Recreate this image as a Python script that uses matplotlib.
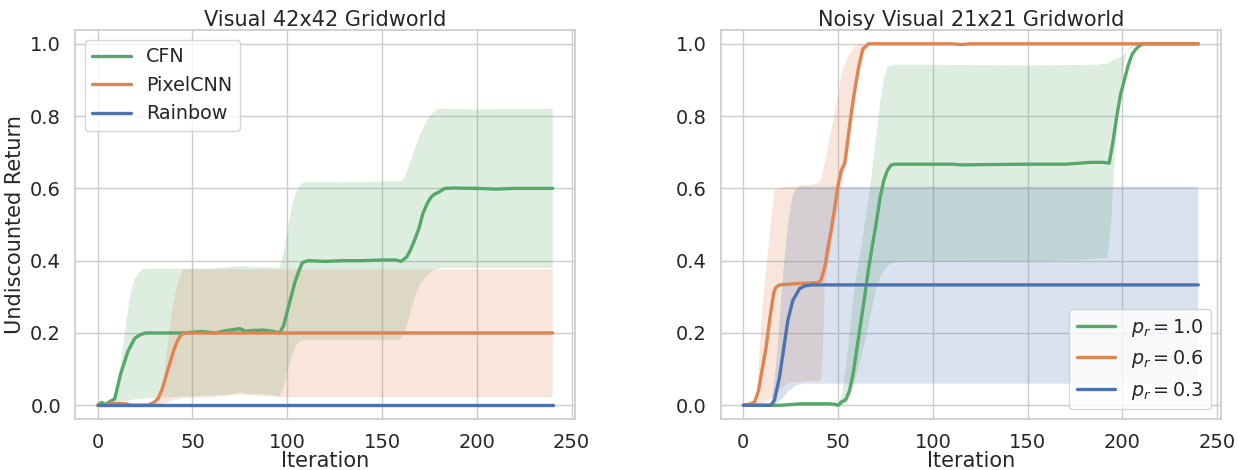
import matplotlib
matplotlib.use("Agg")
import matplotlib.pyplot as plt
import seaborn as sns

sns.set_theme(style="whitegrid")
plt.rcParams['font.family'] = ['DejaVu Sans']

GREEN, ORANGE, BLUE = "#55A868", "#DD8452", "#4C72B0"

# ---- left panel: Visual 42x42 Gridworld ----
cfn_x = [0, 2, 4, 6, 9, 12, 16, 19.5, 22, 25, 35, 45, 55, 62, 67, 71, 75, 78, 82, 87, 92, 96,
         98, 100, 102, 104, 106, 108, 111, 120, 130, 140, 150, 157, 160, 163, 165, 167, 169.5,
         171.5, 174, 176, 178, 180, 183, 187, 200, 210, 220, 230, 240]
cfn_y = [0, 0.008, 0.002, 0.009, 0.018, 0.085, 0.15, 0.185, 0.194, 0.2, 0.2, 0.2, 0.204, 0.2,
         0.206, 0.209, 0.212, 0.205, 0.207, 0.208, 0.205, 0.2, 0.22, 0.26, 0.3, 0.34, 0.37,
         0.395, 0.4, 0.398, 0.4, 0.4, 0.402, 0.402, 0.398, 0.41, 0.43, 0.455, 0.49, 0.53, 0.56,
         0.577, 0.585, 0.59, 0.6, 0.601, 0.6, 0.598, 0.6, 0.6, 0.6]
cfn_up_x = [0, 5, 9, 11, 13, 15, 17, 19.5, 22, 24, 40, 60, 70, 75, 80, 90, 96, 98, 100, 102,
            104, 106, 108.5, 111, 130, 150, 160, 162, 164, 166, 168, 170.5, 173, 175, 177, 180,
            190, 200, 220, 240]
cfn_up_y = [0, 0.005, 0.02, 0.07, 0.15, 0.23, 0.3, 0.351, 0.368, 0.377, 0.378, 0.378, 0.382,
            0.386, 0.383, 0.382, 0.38, 0.42, 0.48, 0.54, 0.58, 0.605, 0.616, 0.618, 0.617, 0.619,
            0.62, 0.63, 0.66, 0.69, 0.72, 0.753, 0.78, 0.8, 0.81, 0.82, 0.82, 0.818, 0.82, 0.82]
cfn_lo_x = [0, 4, 10, 21, 30, 40, 50, 60, 70, 75, 80, 90, 96, 98, 100, 102, 104, 106, 108, 110,
            130, 150, 158, 160, 162, 164, 166, 168, 170, 172, 174, 177, 182, 200, 220, 240]
cfn_lo_y = [0, 0.004, 0.006, 0.018, 0.02, 0.023, 0.025, 0.027, 0.03, 0.035, 0.032, 0.03, 0.025,
            0.05, 0.09, 0.13, 0.16, 0.175, 0.18, 0.18, 0.18, 0.18, 0.18, 0.183, 0.2, 0.24, 0.28,
            0.31, 0.335, 0.35, 0.36, 0.375, 0.38, 0.38, 0.38, 0.38]

pcnn_x = [0, 3.5, 6, 10, 15, 18, 22, 26.5, 30, 32, 34, 36, 38, 40, 42, 44, 46, 60, 100, 150,
          200, 240]
pcnn_y = [0, 0, 0.004, 0.005, 0.004, 0, 0, 0, 0.009, 0.02, 0.045, 0.08, 0.115, 0.15, 0.178,
          0.195, 0.2, 0.2, 0.2, 0.2, 0.2, 0.2]
pcnn_up_x = [0, 10, 20, 28, 31, 33, 35, 37, 39, 41, 43, 45, 60, 100, 150, 200, 240]
pcnn_up_y = [0, 0.005, 0.005, 0.008, 0.015, 0.03, 0.08, 0.17, 0.25, 0.31, 0.35, 0.376, 0.376,
             0.376, 0.376, 0.376, 0.376]
pcnn_lo_x = [0, 30, 35, 40, 45, 60, 75, 90, 100, 150, 200, 240]
pcnn_lo_y = [0, 0, 0.005, 0.015, 0.02, 0.022, 0.03, 0.025, 0.022, 0.022, 0.022, 0.022]

rainbow_x = [0, 240]
rainbow_y = [0, 0]

# ---- right panel: Noisy Visual 21x21 Gridworld ----
p10_x = [0, 20, 30, 36, 45, 48, 50, 52, 54, 56, 58, 60, 62, 64, 66, 68, 70, 72, 74, 76, 78, 80,
         90, 110, 115, 130, 150, 170, 183, 190, 193, 195, 197, 199, 201, 203, 205, 207, 209,
         211, 220, 240]
p10_y = [0, 0, 0.004, 0.004, 0.004, 0.003, 0, 0.01, 0.015, 0.04, 0.09, 0.16, 0.23, 0.3,
         0.375, 0.44, 0.5, 0.57, 0.62, 0.65, 0.665, 0.667, 0.667, 0.667, 0.665, 0.666, 0.667,
         0.667, 0.672, 0.672, 0.67, 0.73, 0.8, 0.86, 0.9, 0.94, 0.97, 0.985, 0.995, 1.0, 1.0,
         1.0]
p10_up_x = [0, 50, 52, 54, 56, 58, 60, 62, 64, 66, 68, 70, 72, 74, 76, 78, 80, 100, 150, 185,
            192, 195, 198, 200, 204, 207, 210, 240]
p10_up_y = [0, 0, 0.03, 0.1, 0.2, 0.3, 0.37, 0.43, 0.5, 0.57, 0.65, 0.74, 0.83, 0.9, 0.935,
            0.94, 0.942, 0.942, 0.94, 0.942, 0.945, 0.955, 0.96, 0.965, 0.985, 0.995, 1.0, 1.0]
p10_lo_x = [0, 52, 54, 56, 58, 60, 62, 64, 66, 68, 70, 72, 74, 76, 78, 82, 100, 150, 180, 187,
            192, 194, 195, 197, 199, 201, 203, 206, 240]
p10_lo_y = [0, 0, 0.005, 0.02, 0.05, 0.09, 0.13, 0.17, 0.22, 0.27, 0.32, 0.35, 0.37, 0.385,
            0.393, 0.397, 0.397, 0.398, 0.402, 0.407, 0.407, 0.5, 0.6, 0.75, 0.88, 0.95, 0.985,
            1.0, 1.0]

p06_x = [0, 4, 6, 8, 10, 12, 14, 16, 17, 19, 29, 39, 41, 43, 45, 46.5, 48, 50, 51.7, 53.5, 55,
         57, 59, 61, 63, 66, 80, 110, 115, 120, 150, 200, 240]
p06_y = [0, 0.004, 0.01, 0.04, 0.1, 0.16, 0.24, 0.31, 0.325, 0.333, 0.337, 0.339, 0.346, 0.383,
         0.445, 0.49, 0.54, 0.61, 0.65, 0.67, 0.73, 0.81, 0.88, 0.94, 0.985, 1.0, 1.0, 1.0,
         0.998, 1.0, 1.0, 1.0, 1.0]
p06_up_x = [0, 4, 6.7, 8.5, 10.2, 12.5, 14.7, 16.4, 20, 30, 39, 41, 43, 46.4, 50, 51.7, 55.3,
            58.8, 62.3, 240]
p06_up_y = [0, 0.002, 0.005, 0.14, 0.282, 0.4, 0.512, 0.596, 0.603, 0.607, 0.612, 0.623, 0.669,
            0.762, 0.854, 0.919, 0.965, 0.992, 1.0, 1.0]
p06_lo_x = [0, 8, 12, 16, 20, 23, 30, 41, 42, 43, 45, 47, 49, 51, 53, 55, 57, 59, 61, 63, 65,
            67, 240]
p06_lo_y = [0, 0, 0.01, 0.025, 0.045, 0.06, 0.065, 0.068, 0.15, 0.33, 0.4, 0.46, 0.52, 0.59,
            0.64, 0.68, 0.76, 0.84, 0.91, 0.96, 0.99, 1.0, 1.0]

p03_x = [0, 14.7, 16.4, 19.1, 21.7, 23.5, 26.1, 29.7, 32.3, 36, 60, 100, 150, 200, 240]
p03_y = [0, 0, 0.014, 0.078, 0.171, 0.235, 0.29, 0.323, 0.33, 0.333, 0.333, 0.333, 0.333,
         0.333, 0.333]
p03_up_x = [0, 14, 16, 18, 20, 22, 24, 26, 28, 30, 60, 100, 150, 200, 240]
p03_up_y = [0, 0, 0.05, 0.15, 0.3, 0.42, 0.52, 0.58, 0.6, 0.605, 0.605, 0.605, 0.605, 0.605,
            0.605]
p03_lo_x = [0, 16, 20, 24, 28, 32, 60, 100, 150, 200, 240]
p03_lo_y = [0, 0, 0.015, 0.04, 0.055, 0.06, 0.06, 0.06, 0.06, 0.06, 0.06]

left_series = [
    ("CFN", GREEN, cfn_x, cfn_y, cfn_up_x, cfn_up_y, cfn_lo_x, cfn_lo_y),
    ("PixelCNN", ORANGE, pcnn_x, pcnn_y, pcnn_up_x, pcnn_up_y, pcnn_lo_x, pcnn_lo_y),
    ("Rainbow", BLUE, rainbow_x, rainbow_y, rainbow_x, rainbow_y, rainbow_x, rainbow_y),
]
right_series = [
    (r"$p_r = 1.0$", GREEN, p10_x, p10_y, p10_up_x, p10_up_y, p10_lo_x, p10_lo_y),
    (r"$p_r = 0.6$", ORANGE, p06_x, p06_y, p06_up_x, p06_up_y, p06_lo_x, p06_lo_y),
    (r"$p_r = 0.3$", BLUE, p03_x, p03_y, p03_up_x, p03_up_y, p03_lo_x, p03_lo_y),
]

fig, axes = plt.subplots(1, 2, figsize=(12.39, 4.70), dpi=100)
fig.subplots_adjust(left=0.0605, right=0.9855, top=0.936, bottom=0.1085, wspace=0.29)


def draw(ax, series, title, legend_loc):
    for label, color, x, y, ux, uy, lx, ly in series:
        ax.fill(ux + lx[::-1], uy + ly[::-1], color=color, alpha=0.2, linewidth=0)
    for label, color, x, y, ux, uy, lx, ly in series:
        ax.plot(x, y, color=color, lw=2.4, label=label)
    ax.set_xlim(-12, 252)
    ax.set_ylim(-0.038, 1.038)
    ax.set_xticks([0, 50, 100, 150, 200, 250])
    ax.set_yticks([0.0, 0.2, 0.4, 0.6, 0.8, 1.0])
    ax.tick_params(labelsize=14, pad=4)
    ax.set_title(title, fontsize=15, pad=3)
    ax.set_xlabel("Iteration", fontsize=15, labelpad=-1)
    ax.legend(loc=legend_loc, fontsize=13.8, framealpha=0.8)


draw(axes[0], left_series, "Visual 42x42 Gridworld", "upper left")
draw(axes[1], right_series, "Noisy Visual 21x21 Gridworld", "lower right")
axes[0].set_ylabel("Undiscounted Return", fontsize=15)

fig.savefig("out.png", dpi=100)
